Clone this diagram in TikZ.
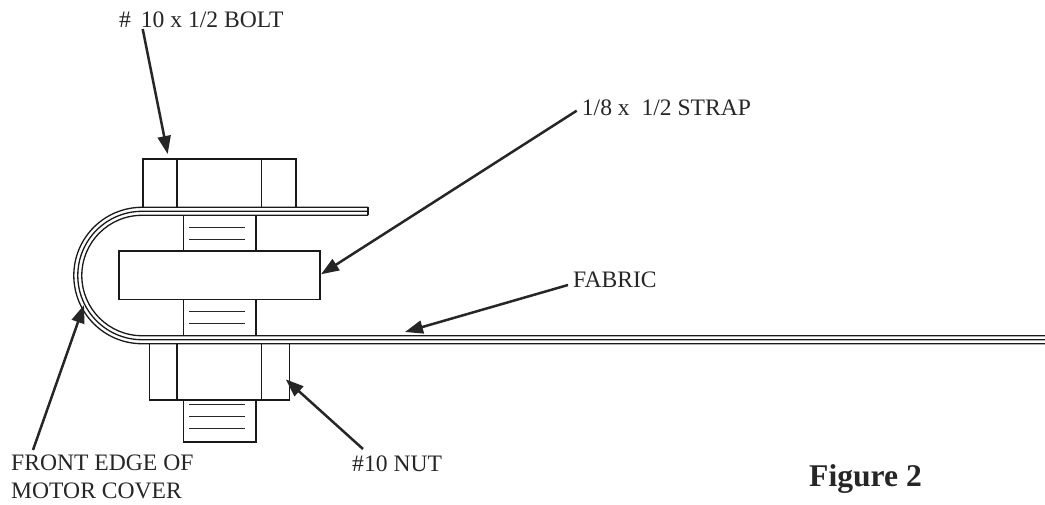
\documentclass[tikz,border=0pt]{standalone}
\usepackage{fontspec}
\setmainfont{Liberation Serif}
\usetikzlibrary{arrows.meta}
\tikzset{
  x=1pt,y=-1pt,
  part/.style={draw=black!90,line width=1.3pt,line join=miter},
  thin part/.style={draw=black!85,line width=1.2pt},
  leader/.style={draw=black!85,line width=2.5pt,-{Triangle[length=18pt,width=13pt]},shorten >=0pt},
  lbl/.style={inner sep=0pt,anchor=base west,font=\fontsize{23.6}{23.6}\selectfont,text=black!85},
}
\begin{document}
\begin{tikzpicture}
\useasboundingbox (0,0) rectangle (1045,504);
% bolt head
\draw[part] (143,207.3) -- (143,159) -- (296,159) -- (296,207.3);
\draw[part] (177,159) -- (177,207.3) (261.5,159) -- (261.5,207.3);
% upper shank
\draw[part] (183.3,215.3) -- (183.3,251) (256,215.3) -- (256,251);
\draw[thin part] (189,227.3) -- (245,227.3) (189,239.3) -- (245,239.3);
% strap
\draw[part] (119,251) rectangle (320,299.5);
% lower shank
\draw[part] (183.3,299.5) -- (183.3,336) (256,299.5) -- (256,336);
\draw[thin part] (189,311.7) -- (245,311.7) (189,323.7) -- (245,323.7);
% nut
\draw[part] (149.7,343.7) -- (149.7,400) -- (289.7,400) -- (289.7,343.7);
\draw[part] (177,343.7) -- (177,400) (261.5,343.7) -- (261.5,400);
% bolt end
\draw[part] (183.3,400) -- (183.3,442) -- (256,442) -- (256,400);
\draw[thin part] (189,404.3) -- (245,404.3) (189,416.5) -- (245,416.5) (189,428.5) -- (245,428.5);
% fabric layers
\draw[part] (368,207.3) -- (142,207.3) arc[start angle=90,end angle=270,x radius=68.2,y radius=-68.2] -- (1045,343.7);
\draw[part] (368,211.3) -- (142,211.3) arc[start angle=90,end angle=270,x radius=64.2,y radius=-64.2] -- (1045,339.7);
\draw[part] (368,215.3) -- (142,215.3) arc[start angle=90,end angle=270,x radius=60.2,y radius=-60.2] -- (1045,335.7);
\draw[part] (368,207.3) -- (368,215.3);
% labels
\node[lbl] (bolt) at (119,27.5) {\#\hspace{4pt} 10 x 1/2 BOLT};
\node[lbl] (strap) at (581.7,115) {1/8 x\ \ 1/2 STRAP};
\node[lbl] (fabric) at (573,287) {FABRIC};
\node[lbl] (nut) at (352,471.7) {\#10 NUT};
\node[lbl] (edge1) at (11,470.7) {FRONT EDGE OF};
\node[lbl] (edge2) at (11,498) {MOTOR COVER};
\node[inner sep=0pt,anchor=base west,font=\fontsize{31.6}{31.6}\selectfont\bfseries,text=black!85] (figlabel) at (809,486.7) {Figure 2};
% leaders
\coordinate (bs) at (142.7,29); \coordinate (be) at (167.7,154);
\coordinate (ss) at (576.7,110.7); \coordinate (se) at (321,274.3);
\coordinate (fs) at (568,285); \coordinate (fe) at (405,332);
\coordinate (ns) at (363,449); \coordinate (ne) at (285.7,379.3);
\coordinate (es) at (33,450); \coordinate (ee) at (84,305);
\draw[leader] (bs) -- (be);
\draw[leader] (ss) -- (se);
\draw[leader] (fs) -- (fe);
\draw[leader] (ns) -- (ne);
\draw[leader] (es) -- (ee);
\end{tikzpicture}
\end{document}
